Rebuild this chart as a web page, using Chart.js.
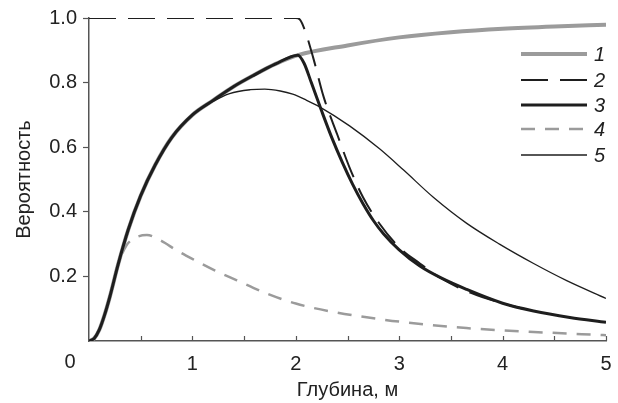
<!DOCTYPE html>
<html>
<head>
<meta charset="utf-8">
<script src="https://cdn.jsdelivr.net/npm/chart.js@4/dist/chart.umd.min.js"></script>
<style>
  html, body { margin: 0; padding: 0; background: #fff; }
  #wrap { width: 618px; height: 403px; }
</style>
</head>
<body>
<div id="wrap"><canvas id="chart" width="618" height="403"></canvas></div>
<script>
// depth, m  /  probability for each curve
const depth1 = [0, 0.05, 0.1, 0.15, 0.2, 0.28, 0.38, 0.5, 0.64, 0.8, 1.0, 1.2, 1.4, 1.6, 1.8, 2.02, 2.5, 3.0, 3.5, 4.0, 4.5, 5.0];
const prob1  = [0, 0.008, 0.035, 0.08, 0.135, 0.235, 0.345, 0.45, 0.545, 0.63, 0.70, 0.745, 0.788, 0.824, 0.857, 0.885, 0.915, 0.94, 0.956, 0.967, 0.974, 0.979];

const depth2 = [0, 1.0, 2.0, 2.04, 2.09, 2.17, 2.27, 2.4, 2.52, 2.65, 2.81, 3.0, 3.2, 3.4, 3.7, 4.05, 4.2];
const prob2  = [1, 1, 1, 0.995, 0.96, 0.875, 0.755, 0.64, 0.537, 0.445, 0.363, 0.29, 0.24, 0.195, 0.148, 0.112, 0.1];

const depth3 = [0, 0.05, 0.1, 0.15, 0.2, 0.28, 0.38, 0.5, 0.64, 0.8, 1.0, 1.2, 1.4, 1.6, 1.8, 2.02, 2.08, 2.15, 2.25, 2.35, 2.45, 2.55, 2.65, 2.75, 2.85, 3.0, 3.2, 3.4, 3.65, 4.0, 4.3, 4.65, 5.0];
const prob3  = [0, 0.008, 0.035, 0.08, 0.135, 0.235, 0.345, 0.45, 0.545, 0.63, 0.70, 0.745, 0.788, 0.824, 0.857, 0.885, 0.86, 0.80, 0.712, 0.628, 0.553, 0.485, 0.425, 0.373, 0.331, 0.282, 0.232, 0.196, 0.16, 0.117, 0.093, 0.073, 0.058];

const depth4 = [0, 0.05, 0.1, 0.15, 0.2, 0.28, 0.36, 0.45, 0.56, 0.7, 0.85, 1.03, 1.22, 1.43, 1.72, 2.0, 2.36, 2.85, 3.0, 3.65, 4.3, 5.0];
const prob4  = [0, 0.008, 0.035, 0.08, 0.135, 0.235, 0.295, 0.32, 0.328, 0.31, 0.28, 0.249, 0.218, 0.188, 0.147, 0.116, 0.09, 0.066, 0.06, 0.04, 0.028, 0.018];

const depth5 = [0, 0.05, 0.1, 0.15, 0.2, 0.28, 0.38, 0.5, 0.64, 0.8, 1.0, 1.19, 1.36, 1.56, 1.7, 1.85, 1.97, 2.1, 2.23, 2.52, 2.81, 3.04, 3.33, 3.65, 3.97, 4.3, 4.62, 5.0];
const prob5  = [0, 0.008, 0.035, 0.08, 0.135, 0.235, 0.345, 0.45, 0.545, 0.63, 0.70, 0.74, 0.766, 0.778, 0.78, 0.774, 0.764, 0.746, 0.725, 0.666, 0.595, 0.53, 0.445, 0.365, 0.30, 0.24, 0.187, 0.132];

const seriesNames = ['1', '2', '3', '4', '5'];
const xTicks = [0, 1, 2, 3, 4, 5];
const yTicks = [0.2, 0.4, 0.6, 0.8, 1.0];

const pts = (xs, ys) => xs.map((x, i) => ({ x, y: ys[i] }));

const GREY = '#9b9b9b';
const BLACK = '#1e1e1e';
const FONT = "'Liberation Sans', Arial, sans-serif";

// small inward ticks on the depth axis every 0.5 m, plus the shared "0"
const axisExtras = {
  id: 'axisExtras',
  afterDraw(chart) {
    const { ctx, scales: { x, y } } = chart;
    const base = y.getPixelForValue(0);
    ctx.save();
    ctx.strokeStyle = '#555';
    ctx.lineWidth = 1.2;
    for (let v = 0.5; v <= 5; v += 0.5) {
      const px = Math.round(x.getPixelForValue(v)) + 0.5;
      ctx.beginPath();
      ctx.moveTo(px, base);
      ctx.lineTo(px, base - 5);
      ctx.stroke();
    }
    ctx.fillStyle = '#222';
    ctx.font = `20px ${FONT}`;
    ctx.textAlign = 'center';
    ctx.textBaseline = 'top';
    ctx.fillText('0', x.left - 19, base + 11);
    ctx.restore();
  }
};

// legend: line sample then italic number, in the upper right
const sideLegend = {
  id: 'sideLegend',
  afterDraw(chart) {
    const { ctx } = chart;
    const x0 = 521, x1 = 587, rows = [54, 80, 105, 129, 155];
    ctx.save();
    seriesNames.forEach((name, i) => {
      const ds = chart.data.datasets.find(d => d.label === name);
      ctx.strokeStyle = ds.borderColor;
      ctx.lineWidth = ds.borderWidth;
      ctx.setLineDash(ds.borderDash || []);
      ctx.beginPath();
      ctx.moveTo(x0, rows[i]);
      ctx.lineTo(x1, rows[i]);
      ctx.stroke();
      ctx.setLineDash([]);
      ctx.fillStyle = '#222';
      ctx.font = `italic 20px ${FONT}`;
      ctx.textAlign = 'left';
      ctx.textBaseline = 'middle';
      ctx.fillText(name, 594, rows[i] + 1);
    });
    ctx.restore();
  }
};

new Chart(document.getElementById('chart'), {
  type: 'line',
  data: {
    datasets: [
      { label: '1', data: pts(depth1, prob1), borderColor: GREY, borderWidth: 4, order: 5 },
      { label: '2', data: pts(depth2, prob2), borderColor: BLACK, borderWidth: 2, borderDash: [27, 12], order: 3 },
      { label: '3', data: pts(depth3, prob3), borderColor: BLACK, borderWidth: 3, order: 1 },
      { label: '4', data: pts(depth4, prob4), borderColor: GREY, borderWidth: 2.5, borderDash: [14, 10], order: 4 },
      { label: '5', data: pts(depth5, prob5), borderColor: BLACK, borderWidth: 1.3, order: 2 }
    ]
  },
  options: {
    responsive: false,
    animation: false,
    devicePixelRatio: 1,
    elements: {
      point: { radius: 0 },
      line: { cubicInterpolationMode: 'monotone', fill: false, borderCapStyle: 'butt' }
    },
    layout: { padding: { top: 16, right: 12, left: 0, bottom: 0 } },
    plugins: { legend: { display: false }, tooltip: { enabled: false } },
    scales: {
      x: {
        type: 'linear',
        min: 0, max: 5,
        afterFit: (s) => { s.height = 62; s.paddingLeft = 0; s.paddingRight = 0; },
        afterBuildTicks: (s) => { s.ticks = xTicks.map(v => ({ value: v })); },
        border: { display: true, color: '#555', width: 1.5 },
        grid: { display: false, drawTicks: false },
        ticks: {
          padding: 11,
          color: '#222',
          font: { family: FONT, size: 20 },
          callback: (v) => (v === 0 ? '' : String(v))
        },
        title: {
          display: true, text: 'Глубина, м', color: '#222',
          font: { family: FONT, size: 20 },
          padding: { bottom: 1 }
        }
      },
      y: {
        type: 'linear',
        min: 0, max: 1,
        afterFit: (s) => { s.width = 89; },
        afterBuildTicks: (s) => { s.ticks = [0, ...yTicks].map(v => ({ value: v })); },
        border: { display: true, color: '#555', width: 1.5 },
        grid: {
          drawOnChartArea: false,
          drawTicks: true,
          tickLength: 6,
          tickWidth: 1.2,
          tickColor: (c) => (c.tick && c.tick.value === 0 ? 'rgba(0,0,0,0)' : '#555')
        },
        ticks: {
          padding: 6,
          color: '#222',
          font: { family: FONT, size: 20 },
          callback: (v) => (v === 0 ? '' : v.toFixed(1))
        },
        title: {
          display: true, text: 'Вероятность', color: '#222',
          font: { family: FONT, size: 20 },
          padding: { top: 12 }
        }
      }
    }
  },
  plugins: [axisExtras, sideLegend]
});
</script>
</body>
</html>
